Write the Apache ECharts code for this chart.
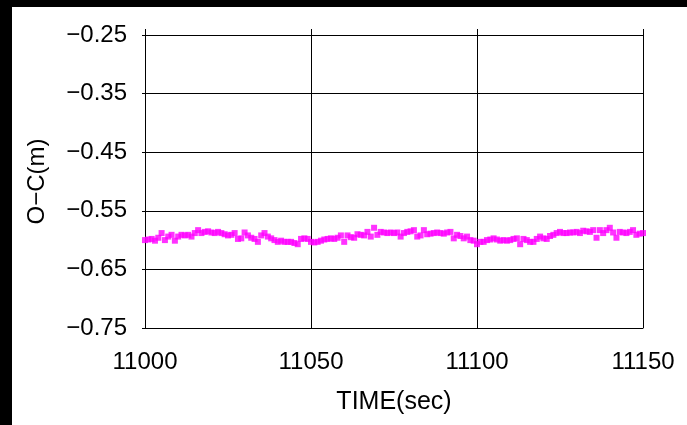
<!DOCTYPE html>
<html>
<head>
<meta charset="utf-8">
<script src="https://cdn.jsdelivr.net/npm/echarts@6/dist/echarts.min.js"></script>
<style>
  html, body { margin: 0; padding: 0; background: #fff; }
  #chart { width: 687px; height: 425px; }
</style>
</head>
<body>
<div id="chart"></div>
<script>
// time axis (sec), one sample per second
var timeStart = 11000;
var xTicks = [11000, 11050, 11100, 11150];
var yTicks = [-0.75, -0.65, -0.55, -0.45, -0.35, -0.25];

// O-C values (m), 11000 .. 11150
var ocValues = [
  -0.600, -0.599, -0.598, -0.601, -0.596, -0.588, -0.600, -0.594, -0.591, -0.601,
  -0.594, -0.591, -0.592, -0.591, -0.594, -0.588, -0.583, -0.588, -0.586, -0.585,
  -0.587, -0.588, -0.586, -0.588, -0.590, -0.592, -0.591, -0.588, -0.598, -0.597,
  -0.587, -0.592, -0.596, -0.598, -0.603, -0.592, -0.588, -0.594, -0.597, -0.600,
  -0.603, -0.601, -0.603, -0.603, -0.603, -0.605, -0.607, -0.598, -0.597, -0.598,
  -0.603, -0.604, -0.603, -0.601, -0.599, -0.598, -0.597, -0.598, -0.596, -0.592,
  -0.603, -0.592, -0.595, -0.596, -0.590, -0.591, -0.592, -0.586, -0.594, -0.579,
  -0.591, -0.586, -0.587, -0.588, -0.587, -0.588, -0.587, -0.594, -0.588, -0.586,
  -0.585, -0.583, -0.594, -0.592, -0.583, -0.590, -0.589, -0.588, -0.587, -0.588,
  -0.589, -0.587, -0.586, -0.597, -0.591, -0.593, -0.597, -0.594, -0.600, -0.601,
  -0.607, -0.603, -0.603, -0.600, -0.599, -0.597, -0.599, -0.601, -0.600, -0.601,
  -0.600, -0.598, -0.597, -0.607, -0.598, -0.600, -0.603, -0.603, -0.598, -0.594,
  -0.597, -0.598, -0.593, -0.591, -0.588, -0.586, -0.588, -0.588, -0.587, -0.587,
  -0.586, -0.588, -0.584, -0.585, -0.586, -0.583, -0.596, -0.583, -0.588, -0.583,
  -0.579, -0.587, -0.596, -0.586, -0.587, -0.588, -0.586, -0.583, -0.591, -0.589,
  -0.588
];

var points = ocValues.map(function (v, i) { return [timeStart + i, v]; });

var labelFont = 'Liberation Sans';
var chart = echarts.init(document.getElementById('chart'));

var option = {
  animation: false,
  backgroundColor: '#fff',
  graphic: [
    { type: 'rect', left: 0, top: 0, shape: { width: 687, height: 7 }, style: { fill: '#000' }, z: 100 },
    { type: 'rect', left: 0, top: 0, shape: { width: 12, height: 425 }, style: { fill: '#000' }, z: 100 }
  ],
  grid: { left: 145, right: 44, top: 35, bottom: 97 },
  xAxis: [{
    type: 'value',
    min: xTicks[0],
    max: xTicks[xTicks.length - 1],
    interval: 50,
    name: 'TIME(sec)',
    nameLocation: 'middle',
    nameGap: 62,
    nameTextStyle: { fontFamily: labelFont, fontSize: 25, color: '#000' },
    axisLine: { lineStyle: { color: '#000', width: 1 } },
    axisTick: { show: false },
    axisLabel: {
      fontFamily: labelFont, fontSize: 24, color: '#000', margin: 22,
      formatter: function (v) { return String(v); }
    },
    splitLine: { show: true, lineStyle: { color: '#000', width: 1 } }
  }, {
    type: 'value',
    position: 'top',
    min: xTicks[0],
    max: xTicks[xTicks.length - 1],
    interval: 50,
    axisLine: { show: true, lineStyle: { color: '#000', width: 1 } },
    axisTick: { show: true, length: 6, lineStyle: { color: '#000' } },
    axisLabel: { show: false },
    splitLine: { show: false }
  }],
  yAxis: {
    type: 'value',
    min: yTicks[0],
    max: yTicks[yTicks.length - 1],
    interval: 0.1,
    name: 'O\u2212C(m)',
    nameLocation: 'middle',
    nameGap: 96,
    nameTextStyle: { fontFamily: labelFont, fontSize: 24, color: '#000' },
    axisLine: { show: true, lineStyle: { color: '#000', width: 1 } },
    axisTick: { show: true, length: 3, lineStyle: { color: '#000' } },
    axisLabel: {
      fontFamily: labelFont, fontSize: 24, color: '#000', margin: 18,
      formatter: function (v) { return v.toFixed(2).replace('-', '\u2212'); }
    },
    splitLine: { show: true, lineStyle: { color: '#000', width: 1 } }
  },
  series: [{
    type: 'scatter',
    data: points,
    symbol: 'rect',
    symbolSize: 6,
    itemStyle: { color: '#ff00ff' }
  }]
};

chart.setOption(option);
</script>
</body>
</html>
